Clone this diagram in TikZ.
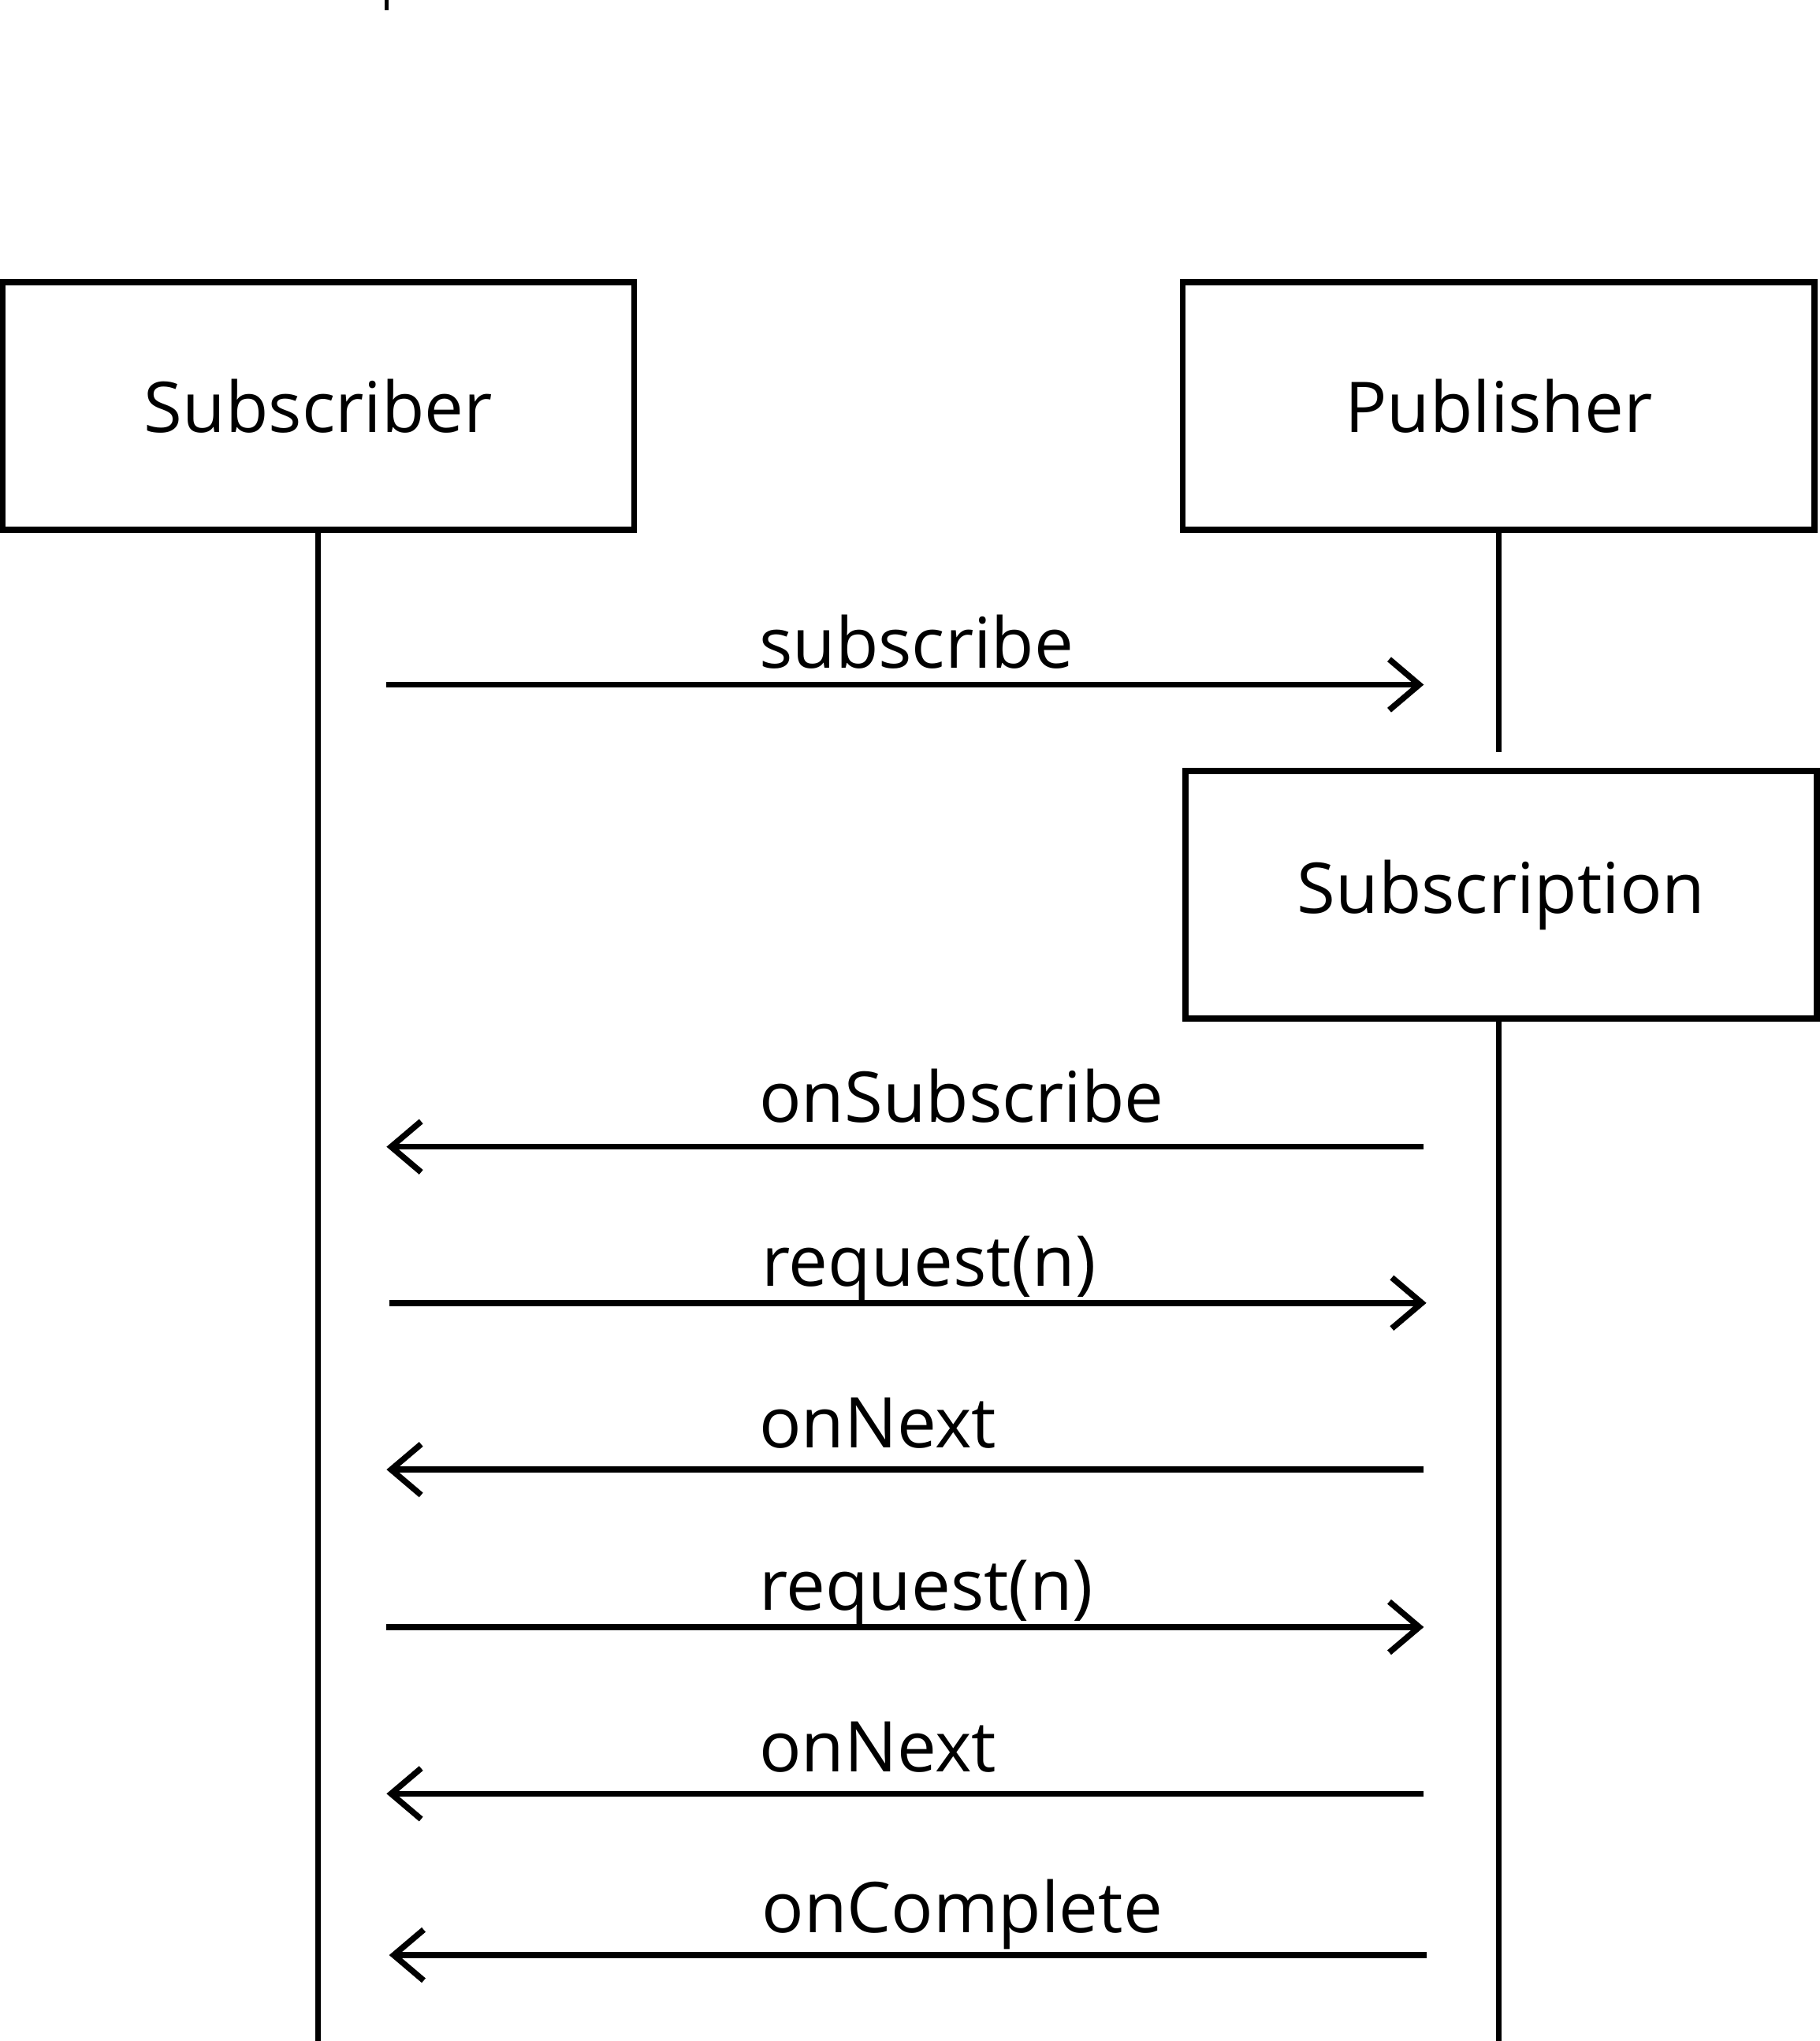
\documentclass[tikz,border=0pt]{standalone}
\usepackage{fontspec}
\setmainfont{Open Sans}
\usetikzlibrary{arrows.meta}

\begin{document}
\begin{tikzpicture} [x=0.01cm,y=-0.01cm,line width=1.3pt,
			>={Straight Barb[length=2.3mm,width=3.9mm]},
			every node/.style={font=\fontsize{15.3}{18}\selectfont},
			actor/.style={draw,line width=1.3pt,minimum width=4.85cm,minimum height=1.90cm,inner sep=0pt},
			lifeline/.style={line width=1.3pt},
			msg/.style={->,line width=1.3pt},
			msg label/.style={anchor=base west,inner sep=0pt}
			]
		\useasboundingbox (0,0) rectangle (1398,1568);
		%\draw[step=100, color=gray] (0,0) grid (1398,1568);
		\coordinate (tick top) at (297,0);
		\coordinate (tick bottom) at (297,8);
		\draw [line width=0.8pt] (tick top) -- (tick bottom);

		\node [actor] (sub) at (244.5,312) {Subscriber};
		\node [actor] (pub) at (1151.5,312) {Publisher};
		\node [actor] (subn) at (1153.5,687.5) {Subscription};

		\coordinate (sub end) at (244.5,1568);
		\coordinate (pub end) at (1151.5,578);
		\coordinate (subn end) at (1151.5,1568);
		\draw [lifeline] (sub) -- (sub end);
		\draw [lifeline] (pub) -- (pub end);
		\draw [lifeline] (subn.south -| subn end) -- (subn end);

		\coordinate (l1) at (297,526);  \coordinate (r1) at (1094,526);
		\coordinate (l2) at (297,881);  \coordinate (r2) at (1094,881);
		\coordinate (l3) at (299,1001); \coordinate (r3) at (1096,1001);
		\coordinate (l4) at (297,1129); \coordinate (r4) at (1094,1129);
		\coordinate (l5) at (297,1250); \coordinate (r5) at (1094,1250);
		\coordinate (l6) at (297,1378); \coordinate (r6) at (1094,1378);
		\coordinate (l7) at (299,1502); \coordinate (r7) at (1096,1502);

		\draw [msg] (l1) -- (r1);
		\draw [msg] (r2) -- (l2);
		\draw [msg] (l3) -- (r3);
		\draw [msg] (r4) -- (l4);
		\draw [msg] (l5) -- (r5);
		\draw [msg] (r6) -- (l6);
		\draw [msg] (r7) -- (l7);

		\node [msg label] (m1) at (581,513) {subscribe};
		\node [msg label] (m2) at (581,862) {onSubscribe};
		\node [msg label] (m3) at (583,988) {request(n)};
		\node [msg label] (m4) at (581,1112) {onNext};
		\node [msg label] (m5) at (581,1237) {request(n)};
		\node [msg label] (m6) at (581,1361) {onNext};
		\node [msg label] (m7) at (583,1485) {onComplete};
		\end{tikzpicture}
\end{document}
